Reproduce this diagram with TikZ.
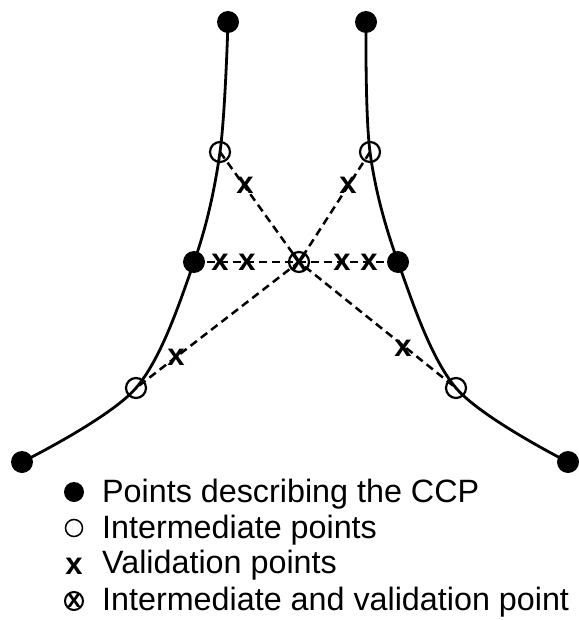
\documentclass[tikz,border=0pt]{standalone}
\usepackage{fontspec}
\setmainfont{Liberation Sans}
\begin{document}
\begin{tikzpicture}[x=1pt,y=-1pt,
  ccp/.style={circle,fill=black,inner sep=0pt,minimum size=22pt},
  inter/.style={circle,draw=black,line width=2.2pt,inner sep=0pt,minimum size=20pt},
  valx/.style={inner sep=0pt,font=\fontsize{31}{31}\selectfont\bfseries},
  curve/.style={line width=2.8pt},
  link/.style={dash pattern=on 8pt off 5pt,line width=2.5pt},
  legtext/.style={anchor=base west,inner sep=0pt,font=\fontsize{32.3}{33}\selectfont}]
\useasboundingbox (0,0) rectangle (578,620);
% point positions
\coordinate (cTL) at (228,22);
\coordinate (cUL) at (220,152);
\coordinate (cML) at (194,262);
\coordinate (cLL) at (136,388);
\coordinate (cBL) at (22,462);
\coordinate (cTR) at (366,22);
\coordinate (cUR) at (370,152);
\coordinate (cMR) at (398,262);
\coordinate (cLR) at (456,388);
\coordinate (cBR) at (568,462);
\coordinate (cC) at (299,262);
% curves
\draw[curve] plot[smooth,tension=0.55] coordinates {(cTL) (cUL) (cML) (cLL) (cBL)};
\draw[curve] plot[smooth,tension=0.55] coordinates {(cTR) (cUR) (cMR) (cLR) (cBR)};
% dashed links
\draw[link] (cUL) -- (cC) -- (cLR);
\draw[link] (cUR) -- (cC) -- (cLL);
\draw[link] (cML) -- (cMR);
% points describing the CCP
\node[ccp] (tl) at (cTL) {};
\node[ccp] (ml) at (cML) {};
\node[ccp] (bl) at (cBL) {};
\node[ccp] (tr) at (cTR) {};
\node[ccp] (mr) at (cMR) {};
\node[ccp] (br) at (cBR) {};
% intermediate points
\node[inter] (ul) at (cUL) {};
\node[inter] (ll) at (cLL) {};
\node[inter] (ur) at (cUR) {};
\node[inter] (lr) at (cLR) {};
\node[inter] (c) at (cC) {};
% validation points
\node[valx] (v1) at (245,185) {x};
\node[valx] (v2) at (348,185) {x};
\node[valx] (v3) at (220,262) {x};
\node[valx] (v4) at (247,262) {x};
\node[valx] (v5) at (342,262) {x};
\node[valx] (v6) at (369,262) {x};
\node[valx] (v7) at (176,357) {x};
\node[valx] (v8) at (403,348) {x};
\node[valx] (v9) at (cC) {x};
% legend
\node[circle,fill=black,inner sep=0pt,minimum size=20pt] (lg1) at (74,492) {};
\node[circle,draw=black,line width=1.5pt,inner sep=0pt,minimum size=17pt] (lg2) at (74,528) {};
\node[valx] (lg3) at (74,566) {x};
\node[circle,draw=black,line width=2pt,inner sep=0pt,minimum size=18pt] (lg4) at (74,601) {};
\node[inner sep=0pt,font=\fontsize{25}{25}\selectfont\bfseries] (lg4x) at (74,601) {x};
\node[legtext] (t1) at (102,502) {Points describing the CCP};
\node[legtext] (t2) at (102,538) {Intermediate points};
\node[legtext] (t3) at (102,573) {Validation points};
\node[legtext] (t4) at (102,610) {Intermediate and validation point};
\end{tikzpicture}
\end{document}
